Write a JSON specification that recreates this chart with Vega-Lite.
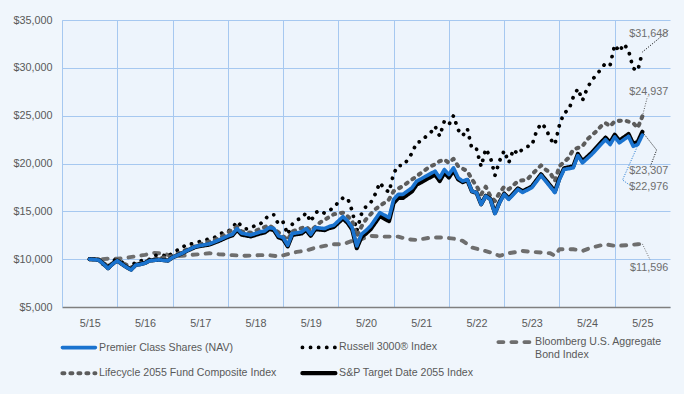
{
  "$schema": "https://vega.github.io/schema/vega-lite/v6.json",
  "width": 608,
  "height": 287,
  "autosize": {"type": "none"},
  "padding": {"left": 62, "top": 20, "right": 14, "bottom": 87},
  "background": "#F0F6FC",
  "config": {
    "view": {"stroke": null, "fill": "#EDF4FC"},
    "font": "Liberation Sans",
    "axis": {"labelFont": "Liberation Sans", "labelFontSize": 10.8, "labelColor": "#595959"},
    "legend": {"labelFont": "Liberation Sans"}
  },
  "datasets": {
    "names": [
      {"s": "P", "name": "Premier Class Shares (NAV)"},
      {"s": "R", "name": "Russell 3000® Index"},
      {"s": "B", "name": "Bloomberg U.S. Aggregate Bond Index"},
      {"s": "L", "name": "Lifecycle 2055 Fund Composite Index"},
      {"s": "S", "name": "S&P Target Date 2055 Index"}
    ],
    "lines": [
      {"s":"P","m":0,"v":10000},{"s":"P","m":1,"v":9950},{"s":"P","m":2,"v":9900},{"s":"P","m":3,"v":9500},{"s":"P","m":4,"v":9030},{"s":"P","m":5,"v":9500},{"s":"P","m":6,"v":9830},{"s":"P","m":7,"v":9480},{"s":"P","m":8,"v":9150},{"s":"P","m":9,"v":8880},{"s":"P","m":10,"v":9380},{"s":"P","m":11,"v":9450},{"s":"P","m":12,"v":9580},{"s":"P","m":13,"v":9830},{"s":"P","m":15,"v":9930},{"s":"P","m":17,"v":9830},{"s":"P","m":18,"v":10180},{"s":"P","m":20,"v":10600},{"s":"P","m":21,"v":10870},{"s":"P","m":23,"v":11320},{"s":"P","m":24,"v":11420},{"s":"P","m":26,"v":11600},{"s":"P","m":28,"v":11980},{"s":"P","m":30,"v":12430},{"s":"P","m":31,"v":12600},{"s":"P","m":32,"v":13200},{"s":"P","m":33,"v":12710},{"s":"P","m":35,"v":12530},{"s":"P","m":37,"v":12840},{"s":"P","m":38,"v":12950},{"s":"P","m":39,"v":13300},{"s":"P","m":40,"v":13200},{"s":"P","m":41,"v":12430},{"s":"P","m":42,"v":12260},{"s":"P","m":43,"v":11460},{"s":"P","m":44,"v":12680},{"s":"P","m":46,"v":12840},{"s":"P","m":47,"v":13200},{"s":"P","m":48,"v":12600},{"s":"P","m":49,"v":13300},{"s":"P","m":51,"v":13200},{"s":"P","m":52,"v":13410},{"s":"P","m":53,"v":13540},{"s":"P","m":55,"v":14450},{"s":"P","m":56,"v":13990},{"s":"P","m":57,"v":13300},{"s":"P","m":58,"v":11385},{"s":"P","m":59,"v":12600},{"s":"P","m":60,"v":13000},{"s":"P","m":61,"v":13470},{"s":"P","m":63,"v":14860},{"s":"P","m":64,"v":14600},{"s":"P","m":65,"v":14340},{"s":"P","m":66,"v":16250},{"s":"P","m":67,"v":16770},{"s":"P","m":68,"v":16770},{"s":"P","m":70,"v":17470},{"s":"P","m":71,"v":18160},{"s":"P","m":72,"v":18400},{"s":"P","m":73,"v":18680},{"s":"P","m":75,"v":19200},{"s":"P","m":76,"v":18510},{"s":"P","m":77,"v":19370},{"s":"P","m":78,"v":18850},{"s":"P","m":79,"v":19550},{"s":"P","m":80,"v":18510},{"s":"P","m":81,"v":18160},{"s":"P","m":82,"v":18330},{"s":"P","m":83,"v":17110},{"s":"P","m":84,"v":16950},{"s":"P","m":85,"v":15730},{"s":"P","m":86,"v":16590},{"s":"P","m":87,"v":16250},{"s":"P","m":88,"v":14760},{"s":"P","m":89,"v":15900},{"s":"P","m":90,"v":16770},{"s":"P","m":91,"v":16250},{"s":"P","m":93,"v":17290},{"s":"P","m":94,"v":16980},{"s":"P","m":96,"v":17470},{"s":"P","m":98,"v":18750},{"s":"P","m":99,"v":18160},{"s":"P","m":100,"v":17570},{"s":"P","m":101,"v":16950},{"s":"P","m":102,"v":18330},{"s":"P","m":103,"v":19370},{"s":"P","m":105,"v":19550},{"s":"P","m":106,"v":20830},{"s":"P","m":107,"v":20070},{"s":"P","m":109,"v":20940},{"s":"P","m":110,"v":21460},{"s":"P","m":112,"v":22500},{"s":"P","m":113,"v":21980},{"s":"P","m":114,"v":22780},{"s":"P","m":115,"v":22160},{"s":"P","m":117,"v":22840},{"s":"P","m":118,"v":21800},{"s":"P","m":119,"v":21980},{"s":"P","m":120,"v":22976},
      {"s":"S","m":0,"v":10000},{"s":"S","m":1,"v":9980},{"s":"S","m":2,"v":9920},{"s":"S","m":3,"v":9520},{"s":"S","m":4,"v":9060},{"s":"S","m":5,"v":9530},{"s":"S","m":6,"v":9850},{"s":"S","m":7,"v":9500},{"s":"S","m":8,"v":9170},{"s":"S","m":9,"v":8920},{"s":"S","m":10,"v":9410},{"s":"S","m":11,"v":9480},{"s":"S","m":12,"v":9600},{"s":"S","m":13,"v":9850},{"s":"S","m":15,"v":9950},{"s":"S","m":17,"v":9850},{"s":"S","m":18,"v":10180},{"s":"S","m":20,"v":10590},{"s":"S","m":21,"v":10850},{"s":"S","m":23,"v":11280},{"s":"S","m":24,"v":11370},{"s":"S","m":26,"v":11530},{"s":"S","m":28,"v":11900},{"s":"S","m":30,"v":12330},{"s":"S","m":31,"v":12490},{"s":"S","m":32,"v":13080},{"s":"S","m":33,"v":12570},{"s":"S","m":35,"v":12380},{"s":"S","m":37,"v":12690},{"s":"S","m":38,"v":12800},{"s":"S","m":39,"v":13150},{"s":"S","m":40,"v":13050},{"s":"S","m":41,"v":12290},{"s":"S","m":42,"v":12120},{"s":"S","m":43,"v":11340},{"s":"S","m":44,"v":12540},{"s":"S","m":46,"v":12690},{"s":"S","m":47,"v":13050},{"s":"S","m":48,"v":12450},{"s":"S","m":49,"v":13140},{"s":"S","m":51,"v":13040},{"s":"S","m":52,"v":13250},{"s":"S","m":53,"v":13370},{"s":"S","m":55,"v":14260},{"s":"S","m":56,"v":13800},{"s":"S","m":57,"v":13100},{"s":"S","m":58,"v":11150},{"s":"S","m":59,"v":12300},{"s":"S","m":60,"v":12680},{"s":"S","m":61,"v":13130},{"s":"S","m":63,"v":14500},{"s":"S","m":64,"v":14240},{"s":"S","m":65,"v":13980},{"s":"S","m":66,"v":15880},{"s":"S","m":67,"v":16400},{"s":"S","m":68,"v":16400},{"s":"S","m":70,"v":17100},{"s":"S","m":71,"v":17800},{"s":"S","m":72,"v":18040},{"s":"S","m":73,"v":18320},{"s":"S","m":75,"v":18850},{"s":"S","m":76,"v":18170},{"s":"S","m":77,"v":19030},{"s":"S","m":78,"v":18540},{"s":"S","m":79,"v":19280},{"s":"S","m":80,"v":18350},{"s":"S","m":81,"v":18050},{"s":"S","m":82,"v":18260},{"s":"S","m":83,"v":17080},{"s":"S","m":84,"v":16940},{"s":"S","m":85,"v":15740},{"s":"S","m":86,"v":16620},{"s":"S","m":87,"v":16290},{"s":"S","m":88,"v":14820},{"s":"S","m":89,"v":15970},{"s":"S","m":90,"v":16850},{"s":"S","m":91,"v":16340},{"s":"S","m":93,"v":17390},{"s":"S","m":94,"v":17090},{"s":"S","m":96,"v":17590},{"s":"S","m":98,"v":18870},{"s":"S","m":99,"v":18280},{"s":"S","m":100,"v":17690},{"s":"S","m":101,"v":17070},{"s":"S","m":102,"v":18460},{"s":"S","m":103,"v":19500},{"s":"S","m":105,"v":19700},{"s":"S","m":106,"v":21000},{"s":"S","m":107,"v":20240},{"s":"S","m":109,"v":21120},{"s":"S","m":110,"v":21650},{"s":"S","m":112,"v":22700},{"s":"S","m":113,"v":22190},{"s":"S","m":114,"v":23000},{"s":"S","m":115,"v":22390},{"s":"S","m":117,"v":23080},{"s":"S","m":118,"v":22060},{"s":"S","m":119,"v":22260},{"s":"S","m":120,"v":23307},
      {"s":"L","m":0,"v":10000},{"s":"L","m":2,"v":9950},{"s":"L","m":4,"v":9250},{"s":"L","m":6,"v":9900},{"s":"L","m":9,"v":9150},{"s":"L","m":12,"v":9750},{"s":"L","m":15,"v":10100},{"s":"L","m":18,"v":10300},{"s":"L","m":21,"v":11000},{"s":"L","m":24,"v":11550},{"s":"L","m":28,"v":12150},{"s":"L","m":32,"v":13400},{"s":"L","m":33,"v":12900},{"s":"L","m":35,"v":12750},{"s":"L","m":39,"v":13550},{"s":"L","m":41,"v":12800},{"s":"L","m":43,"v":12000},{"s":"L","m":44,"v":12900},{"s":"L","m":47,"v":13400},{"s":"L","m":48,"v":12950},{"s":"L","m":50,"v":13820},{"s":"L","m":53,"v":14690},{"s":"L","m":55,"v":14860},{"s":"L","m":56,"v":14500},{"s":"L","m":57,"v":14000},{"s":"L","m":58,"v":12400},{"s":"L","m":59,"v":13400},{"s":"L","m":60,"v":14170},{"s":"L","m":62,"v":15210},{"s":"L","m":63,"v":15550},{"s":"L","m":65,"v":16250},{"s":"L","m":66,"v":17110},{"s":"L","m":68,"v":17640},{"s":"L","m":70,"v":18330},{"s":"L","m":72,"v":19030},{"s":"L","m":74,"v":19720},{"s":"L","m":75,"v":19900},{"s":"L","m":76,"v":20240},{"s":"L","m":77,"v":20420},{"s":"L","m":78,"v":20070},{"s":"L","m":79,"v":20490},{"s":"L","m":80,"v":19720},{"s":"L","m":82,"v":19200},{"s":"L","m":83,"v":18330},{"s":"L","m":84,"v":17640},{"s":"L","m":85,"v":16770},{"s":"L","m":86,"v":17570},{"s":"L","m":87,"v":16590},{"s":"L","m":88,"v":16070},{"s":"L","m":89,"v":16950},{"s":"L","m":90,"v":17570},{"s":"L","m":91,"v":17300},{"s":"L","m":93,"v":18160},{"s":"L","m":95,"v":18330},{"s":"L","m":96,"v":18850},{"s":"L","m":98,"v":19800},{"s":"L","m":99,"v":19370},{"s":"L","m":100,"v":19030},{"s":"L","m":101,"v":18160},{"s":"L","m":102,"v":19720},{"s":"L","m":104,"v":20590},{"s":"L","m":105,"v":21460},{"s":"L","m":107,"v":21800},{"s":"L","m":108,"v":22500},{"s":"L","m":110,"v":23370},{"s":"L","m":111,"v":23890},{"s":"L","m":112,"v":24240},{"s":"L","m":113,"v":23890},{"s":"L","m":114,"v":24410},{"s":"L","m":116,"v":24510},{"s":"L","m":118,"v":24240},{"s":"L","m":119,"v":23720},{"s":"L","m":120,"v":24937},
      {"s":"B","m":0,"v":10000},{"s":"B","m":2,"v":9980},{"s":"B","m":4,"v":10050},{"s":"B","m":6,"v":10050},{"s":"B","m":8,"v":10150},{"s":"B","m":10,"v":10300},{"s":"B","m":12,"v":10450},{"s":"B","m":14,"v":10650},{"s":"B","m":16,"v":10600},{"s":"B","m":18,"v":10300},{"s":"B","m":20,"v":10350},{"s":"B","m":22,"v":10450},{"s":"B","m":24,"v":10520},{"s":"B","m":26,"v":10620},{"s":"B","m":28,"v":10520},{"s":"B","m":31,"v":10420},{"s":"B","m":34,"v":10350},{"s":"B","m":37,"v":10420},{"s":"B","m":39,"v":10420},{"s":"B","m":41,"v":10280},{"s":"B","m":43,"v":10520},{"s":"B","m":45,"v":10760},{"s":"B","m":47,"v":10900},{"s":"B","m":49,"v":11200},{"s":"B","m":51,"v":11390},{"s":"B","m":53,"v":11560},{"s":"B","m":55,"v":11560},{"s":"B","m":57,"v":11910},{"s":"B","m":59,"v":12100},{"s":"B","m":61,"v":12430},{"s":"B","m":64,"v":12360},{"s":"B","m":67,"v":12360},{"s":"B","m":69,"v":12080},{"s":"B","m":71,"v":12010},{"s":"B","m":74,"v":12260},{"s":"B","m":77,"v":12260},{"s":"B","m":79,"v":12150},{"s":"B","m":81,"v":11910},{"s":"B","m":83,"v":11220},{"s":"B","m":85,"v":10970},{"s":"B","m":87,"v":10700},{"s":"B","m":89,"v":10350},{"s":"B","m":91,"v":10620},{"s":"B","m":94,"v":10860},{"s":"B","m":96,"v":10760},{"s":"B","m":98,"v":10700},{"s":"B","m":100,"v":10620},{"s":"B","m":101,"v":10350},{"s":"B","m":102,"v":11040},{"s":"B","m":105,"v":11040},{"s":"B","m":107,"v":10860},{"s":"B","m":109,"v":11220},{"s":"B","m":112,"v":11560},{"s":"B","m":114,"v":11390},{"s":"B","m":117,"v":11460},{"s":"B","m":119,"v":11560},{"s":"B","m":120,"v":11596},
      {"s":"R","m":0,"v":10000},{"s":"R","m":1,"v":9830},{"s":"R","m":2,"v":10000},{"s":"R","m":3,"v":9420},{"s":"R","m":4,"v":9150},{"s":"R","m":5,"v":9880},{"s":"R","m":6,"v":9900},{"s":"R","m":7,"v":9700},{"s":"R","m":8,"v":9150},{"s":"R","m":9,"v":9150},{"s":"R","m":10,"v":9750},{"s":"R","m":11,"v":9800},{"s":"R","m":12,"v":9950},{"s":"R","m":13,"v":9980},{"s":"R","m":14,"v":10380},{"s":"R","m":15,"v":10420},{"s":"R","m":16,"v":10420},{"s":"R","m":17,"v":10200},{"s":"R","m":18,"v":10700},{"s":"R","m":19,"v":10930},{"s":"R","m":20,"v":11150},{"s":"R","m":21,"v":11560},{"s":"R","m":22,"v":11580},{"s":"R","m":23,"v":11700},{"s":"R","m":24,"v":11850},{"s":"R","m":25,"v":11960},{"s":"R","m":26,"v":12160},{"s":"R","m":27,"v":12230},{"s":"R","m":28,"v":12520},{"s":"R","m":29,"v":12820},{"s":"R","m":30,"v":12900},{"s":"R","m":31,"v":13250},{"s":"R","m":32,"v":13950},{"s":"R","m":33,"v":13430},{"s":"R","m":34,"v":13170},{"s":"R","m":35,"v":13220},{"s":"R","m":36,"v":13560},{"s":"R","m":37,"v":13650},{"s":"R","m":38,"v":14150},{"s":"R","m":39,"v":14620},{"s":"R","m":40,"v":14640},{"s":"R","m":41,"v":13630},{"s":"R","m":42,"v":13880},{"s":"R","m":43,"v":12580},{"s":"R","m":44,"v":13650},{"s":"R","m":45,"v":14100},{"s":"R","m":46,"v":14280},{"s":"R","m":47,"v":14850},{"s":"R","m":48,"v":13900},{"s":"R","m":49,"v":14860},{"s":"R","m":50,"v":15080},{"s":"R","m":51,"v":14800},{"s":"R","m":52,"v":15070},{"s":"R","m":53,"v":15400},{"s":"R","m":54,"v":15960},{"s":"R","m":55,"v":16400},{"s":"R","m":56,"v":16380},{"s":"R","m":57,"v":15050},{"s":"R","m":58,"v":12950},{"s":"R","m":59,"v":14700},{"s":"R","m":60,"v":15520},{"s":"R","m":61,"v":15880},{"s":"R","m":62,"v":16800},{"s":"R","m":63,"v":18000},{"s":"R","m":64,"v":17350},{"s":"R","m":65,"v":17000},{"s":"R","m":66,"v":18960},{"s":"R","m":67,"v":19790},{"s":"R","m":68,"v":19780},{"s":"R","m":69,"v":20350},{"s":"R","m":70,"v":21100},{"s":"R","m":71,"v":22200},{"s":"R","m":72,"v":22300},{"s":"R","m":73,"v":22820},{"s":"R","m":74,"v":23200},{"s":"R","m":75,"v":23890},{"s":"R","m":76,"v":22850},{"s":"R","m":77,"v":24410},{"s":"R","m":78,"v":24050},{"s":"R","m":79,"v":25000},{"s":"R","m":80,"v":23520},{"s":"R","m":81,"v":22910},{"s":"R","m":82,"v":23640},{"s":"R","m":83,"v":21510},{"s":"R","m":84,"v":21490},{"s":"R","m":85,"v":19680},{"s":"R","m":86,"v":21530},{"s":"R","m":87,"v":20670},{"s":"R","m":88,"v":18750},{"s":"R","m":89,"v":20280},{"s":"R","m":90,"v":21340},{"s":"R","m":91,"v":20080},{"s":"R","m":92,"v":21470},{"s":"R","m":93,"v":20970},{"s":"R","m":94,"v":21540},{"s":"R","m":95,"v":21770},{"s":"R","m":96,"v":21860},{"s":"R","m":97,"v":23350},{"s":"R","m":98,"v":24190},{"s":"R","m":99,"v":23730},{"s":"R","m":100,"v":22590},{"s":"R","m":101,"v":21980},{"s":"R","m":102,"v":24020},{"s":"R","m":103,"v":25300},{"s":"R","m":104,"v":25570},{"s":"R","m":105,"v":26950},{"s":"R","m":106,"v":27820},{"s":"R","m":107,"v":26590},{"s":"R","m":108,"v":27840},{"s":"R","m":109,"v":28700},{"s":"R","m":110,"v":29250},{"s":"R","m":111,"v":29860},{"s":"R","m":112,"v":30490},{"s":"R","m":113,"v":30280},{"s":"R","m":114,"v":32400},{"s":"R","m":115,"v":31700},{"s":"R","m":116,"v":32500},{"s":"R","m":117,"v":31800},{"s":"R","m":118,"v":29950},{"s":"R","m":119,"v":29700},{"s":"R","m":120,"v":31648}
    ],
    "leaders": [
      {"s":"R","k":0,"m":120,"v":31648},{"s":"R","k":1,"m":125.8,"v":33950},
      {"s":"L","k":0,"m":120,"v":24937},{"s":"L","k":1,"m":121.1,"v":26980},
      {"s":"S","k":0,"m":120,"v":23307},{"s":"S","k":1,"m":123.1,"v":21410},{"s":"S","k":2,"m":121.7,"v":19670},
      {"s":"P","k":0,"m":120,"v":22976},{"s":"P","k":1,"m":115.7,"v":18280},{"s":"P","k":2,"m":117.7,"v":17580},
      {"s":"B","k":0,"m":120,"v":11596},{"s":"B","k":1,"m":121.7,"v":9910}
    ],
    "labels": [
      {"t":"$31,648","m":125.6,"v":33540},
      {"t":"$24,937","m":125.6,"v":27500},
      {"t":"$23,307","m":125.6,"v":19220},
      {"t":"$22,976","m":125.6,"v":17575},
      {"t":"$11,596","m":125.6,"v":9045}
    ]
  },
  "layer": [
    {
      "data": {"name": "lines"},
      "transform": [{"lookup": "s", "from": {"data": {"name": "names"}, "key": "s", "fields": ["name"]}}],
      "encoding": {
        "x": {"field": "m", "type": "quantitative",
          "scale": {"domain": [-6, 126], "nice": false, "zero": false},
          "axis": {"title": null, "values": [-6, 6, 18, 30, 42, 54, 66, 78, 90, 102, 114],
            "labelExpr": "'5/' + (15 + (datum.value + 6) / 12)", "labelOffset": 27.64,
            "ticks": false, "grid": true, "gridColor": "#A6C8F0", "gridWidth": 1,
            "domainColor": "#7F7F7F", "domainWidth": 1.5, "labelFlush": false, "labelOverlap": false,
            "labelBound": false, "labelPadding": 10}},
        "y": {"field": "v", "type": "quantitative",
          "scale": {"domain": [5000, 35000], "nice": false, "zero": false},
          "axis": {"title": null, "values": [5000, 10000, 15000, 20000, 25000, 30000, 35000],
            "format": "$,.0f", "ticks": false, "labelPadding": 10, "grid": true,
            "gridColor": "#A6C8F0", "gridWidth": 1, "domainColor": "#A6C8F0", "domainWidth": 1}},
        "color": {"field": "name", "type": "nominal",
          "scale": {"domain": ["Premier Class Shares (NAV)", "Russell 3000® Index", "Bloomberg U.S. Aggregate Bond Index", "Lifecycle 2055 Fund Composite Index", "S&P Target Date 2055 Index"],
            "range": ["#1A73CF", "#000000", "#6E6E6E", "#5C5C5C", "#000000"]},
          "legend": {"title": null, "orient": "none", "direction": "horizontal", "legendX": 4.4, "legendY": 309.7, "columns": 3,
            "symbolType": "M-1.65,0L1.65,0", "symbolSize": 400, "labelFontSize": 10.6, "labelColor": "#595959",
            "labelLimit": 300, "columnPadding": 17, "rowPadding": 0, "labelOffset": 7.7, "padding": 0,
            "labelExpr": "datum.label == 'Bloomberg U.S. Aggregate Bond Index' ? ['Bloomberg U.S. Aggregate', 'Bond Index'] : datum.label",
            "encode": {"symbols": {"update": {"strokeCap": {"value": "round"}, "fill": {"value": "transparent"}}}}}},
        "strokeDash": {"field": "name", "type": "nominal",
          "scale": {"domain": ["Premier Class Shares (NAV)", "Russell 3000® Index", "Bloomberg U.S. Aggregate Bond Index", "Lifecycle 2055 Fund Composite Index", "S&P Target Date 2055 Index"],
            "range": [[1, 0], [0.1, 8], [5, 8], [2, 6], [1, 0]]}},
        "strokeWidth": {"field": "name", "type": "nominal",
          "scale": {"domain": ["Premier Class Shares (NAV)", "Russell 3000® Index", "Bloomberg U.S. Aggregate Bond Index", "Lifecycle 2055 Fund Composite Index", "S&P Target Date 2055 Index"],
            "range": [3.6, 4.2, 4, 4, 2.4]}}
      },
      "layer": [
        {"transform": [{"filter": "datum.s == 'B'"}], "mark": {"type": "line", "strokeCap": "round", "strokeJoin": "round"}},
        {"transform": [{"filter": "datum.s == 'R'"}], "mark": {"type": "line", "strokeCap": "round", "strokeJoin": "round"}},
        {"transform": [{"filter": "datum.s == 'L'"}], "mark": {"type": "line", "strokeCap": "round", "strokeJoin": "round"}},
        {"transform": [{"filter": "datum.s == 'S'"}], "mark": {"type": "line", "strokeCap": "round", "strokeJoin": "round"}},
        {"transform": [{"filter": "datum.s == 'P'"}], "mark": {"type": "line", "strokeCap": "round", "strokeJoin": "round"}}
      ]
    },
    {
      "data": {"name": "leaders"},
      "transform": [{"lookup": "s", "from": {"data": {"name": "names"}, "key": "s", "fields": ["name"]}}],
      "mark": {"type": "line", "strokeDash": [1, 1.5], "strokeWidth": 1},
      "encoding": {
        "x": {"field": "m", "type": "quantitative", "title": null},
        "y": {"field": "v", "type": "quantitative", "title": null},
        "color": {"field": "name", "type": "nominal", "legend": null},
        "order": {"field": "k", "type": "quantitative"}
      }
    },
    {
      "data": {"name": "labels"},
      "mark": {"type": "text", "align": "right", "baseline": "middle", "fontSize": 10.8, "color": "#6E6E6E", "font": "Liberation Sans"},
      "encoding": {
        "x": {"field": "m", "type": "quantitative", "title": null},
        "y": {"field": "v", "type": "quantitative", "title": null},
        "text": {"field": "t", "type": "nominal"}
      }
    }
  ]
}
